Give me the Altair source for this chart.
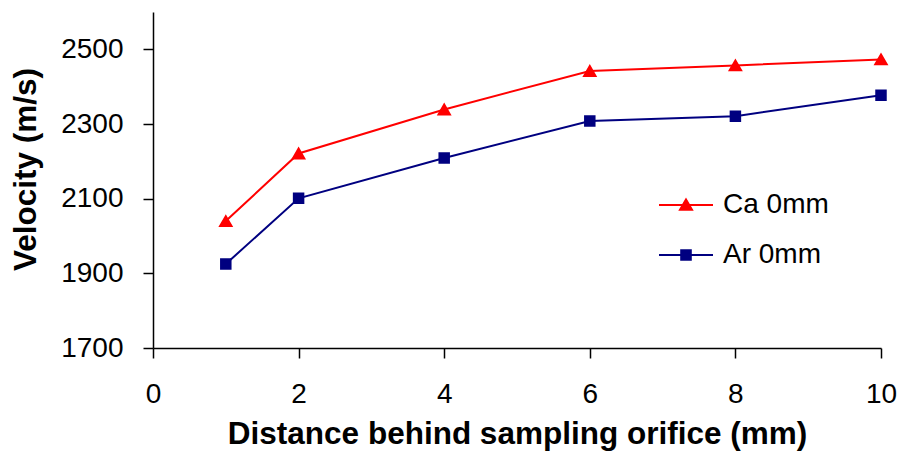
import altair as alt
import pandas as pd

distance = [1, 2, 4, 6, 8, 10]
ca_velocity = [2040, 2221, 2339, 2442, 2457, 2473]
ar_velocity = [1925, 2101, 2209, 2308, 2321, 2377]
series_names = ["Ca 0mm", "Ar 0mm"]
series_colors = ["#FF0000", "#000080"]
series_shapes = ["triangle-up", "square"]
marker_sizes = [130, 90]
x_ticks = [0, 2, 4, 6, 8, 10]
y_ticks = [1700, 1900, 2100, 2300, 2500]

rows = []
for d, v in zip(distance, ca_velocity):
    rows.append({"distance": d, "velocity": v, "series": series_names[0]})
for d, v in zip(distance, ar_velocity):
    rows.append({"distance": d, "velocity": v, "series": series_names[1]})
df = pd.DataFrame(rows)
df["line_series"] = df["series"]
df["fill_series"] = df["series"]
df["stroke_series"] = df["series"]

# alphabetical order (data-driven domains) and reversed order, so that the
# two legends do not get merged into one
alpha_names = sorted(series_names)
alpha_colors = [series_colors[series_names.index(n)] for n in alpha_names]
alpha_shapes = [series_shapes[series_names.index(n)] for n in alpha_names]
alpha_sizes = [marker_sizes[series_names.index(n)] for n in alpha_names]

FONT = "Liberation Sans"
TRI_PATH = "M-2.7,0H2.7M0,-0.56L0.6,0.48L-0.6,0.48Z"
SQ_PATH = "M-2.7,0H2.7M-0.48,-0.48H0.48V0.48H-0.48Z"

x_enc = alt.X(
    "distance:Q",
    scale=alt.Scale(domain=[0, 10], nice=False, zero=False),
    axis=alt.Axis(values=x_ticks, title="Distance behind sampling orifice (mm)", titleY=70,
                  labelPadding=22),
)
y_enc = alt.Y(
    "velocity:Q",
    scale=alt.Scale(domain=[1700, 2600], nice=False, zero=False),
    axis=alt.Axis(values=y_ticks, format="d", title="Velocity (m/s)", titleX=-111, titleY=157),
)

common_legend = dict(
    title=None,
    orient="none",
    legendX=519,
    padding=0,
    labelFont=FONT,
    labelFontSize=28,
    labelColor="black",
    symbolSize=400,
    labelOffset=23,
    symbolStrokeWidth=2,
    symbolOpacity=1,
)

lines = alt.Chart(df).mark_line(strokeWidth=2).encode(
    x=x_enc,
    y=y_enc,
    color=alt.Color(
        "line_series:N",
        scale=alt.Scale(range=alpha_colors),
        legend=None,
    ),
)

points = alt.Chart(df).mark_point(filled=True, opacity=1, strokeWidth=2).encode(
    x=x_enc,
    y=y_enc,
    fill=alt.Fill(
        "fill_series:N",
        scale=alt.Scale(domain=series_names, range=series_colors),
        legend=alt.Legend(
            values=[series_names[1]], symbolType=SQ_PATH,
            symbolStrokeColor=series_colors[1], legendY=229, **common_legend
        ),
    ),
    stroke=alt.Stroke(
        "stroke_series:N",
        scale=alt.Scale(domain=series_names[::-1], range=series_colors[::-1]),
        legend=alt.Legend(
            values=[series_names[0]], symbolType=TRI_PATH,
            symbolFillColor=series_colors[0], legendY=179, **common_legend
        ),
    ),
    shape=alt.Shape(
        "series:N",
        scale=alt.Scale(range=alpha_shapes),
        legend=None,
    ),
    size=alt.Size(
        "series:N",
        scale=alt.Scale(range=alpha_sizes),
        legend=None,
    ),
)

chart = (
    alt.layer(lines, points)
    .properties(
        width=728,
        height=336,
        autosize=alt.AutoSizeParams(type="none"),
        padding={"left": 145, "top": 4, "right": 16, "bottom": 106},
    )
    .configure_view(stroke=None)
    .configure_axis(
        grid=False,
        domainColor="black",
        domainWidth=1.5,
        tickColor="black",
        tickWidth=1.5,
        tickSize=10,
        labelFont=FONT,
        labelFontSize=28,
        labelColor="black",
        labelPadding=20,
        labelFlush=False,
        labelOverlap=False,
        titleFont=FONT,
        titleFontSize=31.5,
        titleFontWeight="bold",
        titleColor="black",
    )
)

chart.save("out.html", embed_options={"renderer": "svg", "actions": False})
